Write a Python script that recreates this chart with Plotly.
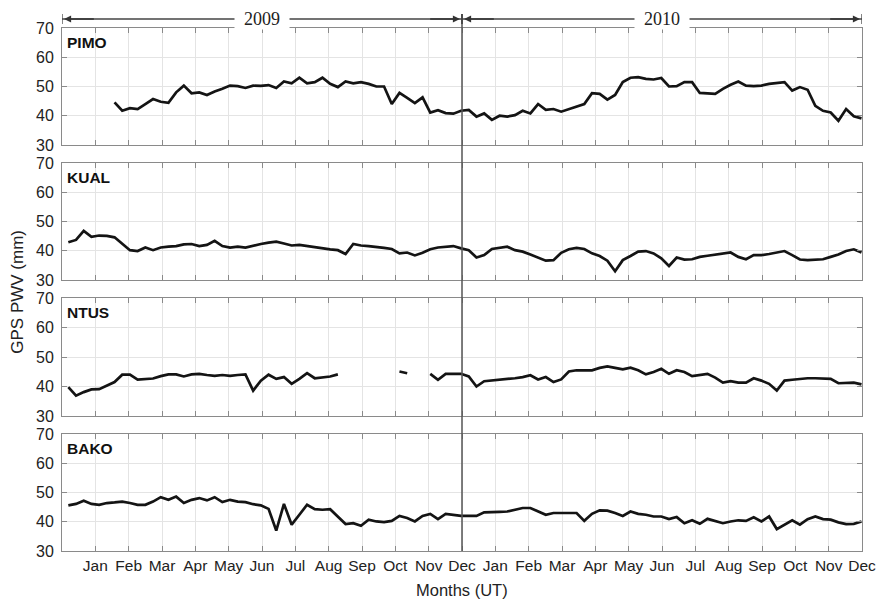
import numpy as np
import plotly.graph_objects as go

# ---------------- data (weekly GPS PWV, mm) ----------------
month_labels = ["Jan", "Feb", "Mar", "Apr", "May", "Jun",
                "Jul", "Aug", "Sep", "Oct", "Nov", "Dec"]
tick_months = list(range(1, 25))
tick_text = month_labels * 2
year_labels = ["2009", "2010"]
stations = ["PIMO", "KUAL", "NTUS", "BAKO"]

pimo = [None, None, None, None, None, None,
        44.6, 41.7, 42.6, 42.3, 44.0, 45.7, 44.8, 44.4, 48.0, 50.3,
        47.7, 48.0, 47.1, 48.3, 49.2, 50.3, 50.1, 49.5, 50.3, 50.2,
        50.5, 49.5, 51.7, 51.1, 53.0, 51.1, 51.5, 53.0, 50.9, 49.8,
        51.7, 51.1, 51.5, 50.9, 50.0, 50.0, 44.0, 47.8, 46.1, 44.3,
        46.3, 41.1, 41.9, 40.9, 40.7, 41.7,
        42.0, 39.7, 40.8, 38.6, 40.0, 39.7, 40.2, 41.7, 40.8, 44.0,
        42.0, 42.3, 41.4, 42.3, 43.2, 44.0, 47.7, 47.5, 45.5, 47.1,
        51.5, 53.0, 53.2, 52.6, 52.4, 52.9, 50.0, 50.1, 51.5, 51.5,
        47.8, 47.7, 47.5, 49.2, 50.6, 51.7, 50.3, 50.1, 50.3, 50.9,
        51.3, 51.5, 48.6, 49.8, 48.9, 43.4, 41.7, 41.1, 38.3, 42.3,
        39.8, 39.1]

kual = [42.9, 43.7, 46.8, 44.8, 45.2, 45.1, 44.6, 42.5, 40.2, 39.9,
        41.1, 40.2, 41.1, 41.4, 41.6, 42.2, 42.3, 41.6, 42.0, 43.4,
        41.6, 41.1, 41.4, 41.1, 41.8, 42.3, 42.8, 43.1, 42.5, 41.8,
        42.0, 41.6, 41.1, 40.8, 40.5, 40.2, 38.9, 42.3, 41.8, 41.6,
        41.4, 41.0, 40.6, 39.1, 39.4, 38.4, 39.3, 40.5, 41.1, 41.4,
        41.6, 40.8,
        40.2, 37.7, 38.5, 40.6, 41.0, 41.4, 40.2, 39.7, 38.7, 37.7,
        36.6, 36.8, 39.3, 40.5, 41.0, 40.6, 39.1, 38.2, 36.6, 33.0,
        36.8, 38.2, 39.7, 39.9, 39.1, 37.4, 34.8, 37.7, 37.0, 37.1,
        37.9, 38.3, 38.7, 39.1, 39.4, 37.9, 37.1, 38.5, 38.5, 38.9,
        39.3, 39.9, 38.5, 37.0, 36.8, 37.0, 37.1, 37.9, 38.7, 39.9,
        40.5, 39.4]

ntus = [39.8, 36.9, 38.1, 39.0, 39.1, 40.3, 41.5, 44.0, 44.0, 42.3,
        42.4, 42.7, 43.5, 44.1, 44.1, 43.4, 44.1, 44.3, 43.9, 43.6,
        43.9, 43.6, 43.9, 44.1, 38.6, 42.0, 44.0, 42.6, 43.2, 40.9,
        42.6, 44.5, 42.8, 43.0, 43.4, 44.1,
        None, None, None, None, None, None, None,
        45.1, 44.5, None, None,
        44.3, 42.3, 44.3, 44.3, 44.3,
        43.4, 40.0, 41.8, 42.0, 42.3, 42.6, 42.8, 43.2, 43.8, 42.4,
        43.2, 41.5, 42.4, 45.1, 45.5, 45.5, 45.5, 46.3, 46.8, 46.3,
        45.8, 46.4, 45.5, 44.1, 44.9, 46.0, 44.3, 45.5, 44.9, 43.5,
        44.0, 44.3, 43.0, 41.3, 41.8, 41.3, 41.3, 42.8, 42.0, 40.9,
        38.6, 42.0, 42.3, 42.6, 42.8, 42.8, 42.8, 42.6, 41.1, 41.3,
        41.3, 40.7]

bako = [45.6, 46.1, 47.2, 46.1, 45.8, 46.4, 46.6, 46.9, 46.4, 45.8,
        45.8, 46.9, 48.4, 47.5, 48.6, 46.4, 47.5, 48.1, 47.3, 48.4,
        46.7, 47.5, 46.9, 46.7, 46.0, 45.6, 44.4, 37.0, 46.1, 39.0,
        42.4, 45.8, 44.3, 44.1, 44.3, 41.6, 39.2, 39.5, 38.6, 40.7,
        40.1, 39.9, 40.3, 42.0, 41.3, 40.1, 42.0, 42.7, 40.9, 42.7,
        42.4, 42.0,
        42.0, 42.0, 43.2, 43.4, 43.4, 43.5, 44.1, 44.7, 44.7, 43.5,
        42.4, 43.0, 43.0, 43.2, 43.0, 40.3, 42.7, 43.9, 43.8, 43.0,
        42.0, 43.5, 42.7, 42.4, 41.8, 41.8, 40.9, 41.6, 39.5, 40.5,
        39.3, 41.0, 40.3, 39.5, 40.1, 40.5, 40.3, 41.5, 40.1, 41.8,
        37.5, 39.0, 40.5, 39.0, 40.9, 41.8, 40.9, 40.7, 39.8, 39.2,
        39.3, 40.1]

series = [pimo, kual, ntus, bako]

# weekly samples, expressed in months from the start of the axis
weeks = np.arange(len(kual))
x_month = 0.19 + weeks * 7 / 30.3

# ---------------- figure ----------------
W, H = 888, 601
ml, mr, mt, mb = 62, 15, 28, 50
ph = H - mt - mb
panel_px = [(28, 145), (163, 280), (298, 416), (434, 551)]
domains = [[1 - (b - mt) / ph, 1 - (t - mt) / ph] for t, b in panel_px]

fig = go.Figure()
sans = "Liberation Sans, Arial, sans-serif"
serif = "Liberation Serif, Times New Roman, serif"

for i, (name, vals) in enumerate(zip(stations, series), start=1):
    s = "" if i == 1 else str(i)
    fig.add_trace(go.Scatter(
        x=x_month, y=vals, mode="lines", name=name,
        line=dict(color="#141414", width=2.7),
        connectgaps=False, showlegend=False,
        xaxis=f"x{s}", yaxis=f"y{s}"))
    ax_common = dict(showline=True, linecolor="#8a8a8a", linewidth=1,
                     mirror="ticks", ticks="inside", ticklen=5,
                     tickcolor="#8a8a8a", showgrid=True,
                     gridcolor="#e4e4e4", gridwidth=1, zeroline=False)
    fig.update_layout(**{
        f"xaxis{s}": dict(domain=[0, 1], range=[0, 24], anchor=f"y{s}",
                          tickmode="array", tickvals=tick_months,
                          ticktext=tick_text, showticklabels=(i == 4),
                          tickfont=dict(family=sans, size=15.5, color="#222"),
                          **ax_common),
        f"yaxis{s}": dict(domain=domains[i - 1], range=[30, 70],
                          anchor=f"x{s}", tickmode="array",
                          tickvals=[30, 40, 50, 60, 70],
                          tickfont=dict(family=sans, size=16, color="#222"),
                          ticklabelstandoff=4,
                          **ax_common),
    })
    fig.add_annotation(text=f"<b>{name}</b>", xref=f"x{s} domain",
                       yref=f"y{s} domain", x=0.004, y=0.97,
                       xanchor="left", yanchor="top", showarrow=False,
                       font=dict(family=sans, size=15.5, color="#111"))

# vertical separator at Dec 2009
fig.add_shape(type="line", xref="x", yref="paper", x0=12, x1=12,
              y0=0, y1=1 + 14 / ph, line=dict(color="#555", width=1.5))

# year arrows on top
ya = 1 + 9 / ph
for j, yr in enumerate(year_labels):
    a, b = 12 * j, 12 * (j + 1)
    fig.add_shape(type="line", xref="x", yref="paper", x0=a, x1=b,
                  y0=ya, y1=ya, line=dict(color="#444", width=1.3))
    for e in (a, b):
        fig.add_shape(type="line", xref="x", yref="paper", x0=e, x1=e,
                      y0=ya - 5 / ph, y1=ya + 5 / ph,
                      line=dict(color="#444", width=1.3))
    for tip, tail in ((a + 0.06, a + 1.0), (b - 0.06, b - 1.0)):
        fig.add_annotation(x=tip, y=ya, xref="x", yref="paper",
                           ax=tail, ay=0, axref="x", ayref="pixel",
                           text="", showarrow=True, arrowhead=2,
                           arrowsize=1.1, arrowwidth=1.3, arrowcolor="#333")
    fig.add_annotation(x=(a + b) / 2, y=ya, xref="x", yref="paper",
                       text=yr, showarrow=False, bgcolor="white",
                       width=54, borderpad=0, xanchor="center",
                       yanchor="middle",
                       font=dict(family=serif, size=18, color="#222"))

# axis titles
fig.add_annotation(text="GPS PWV (mm)", xref="paper", yref="paper",
                   x=(17 - ml) / (W - ml - mr), y=0.495, textangle=-90,
                   showarrow=False, xanchor="center", yanchor="middle",
                   font=dict(family=sans, size=17, color="#222"))
fig.add_annotation(text="Months (UT)", xref="paper", yref="paper",
                   x=(467 - ml) / (W - ml - mr), y=-(590 - 551) / ph,
                   showarrow=False, xanchor="center", yanchor="middle",
                   font=dict(family=sans, size=16.5, color="#222"))

fig.update_layout(width=W, height=H,
                  margin=dict(l=ml, r=mr, t=mt, b=mb),
                  paper_bgcolor="white", plot_bgcolor="white")

fig.write_html("out.html")
